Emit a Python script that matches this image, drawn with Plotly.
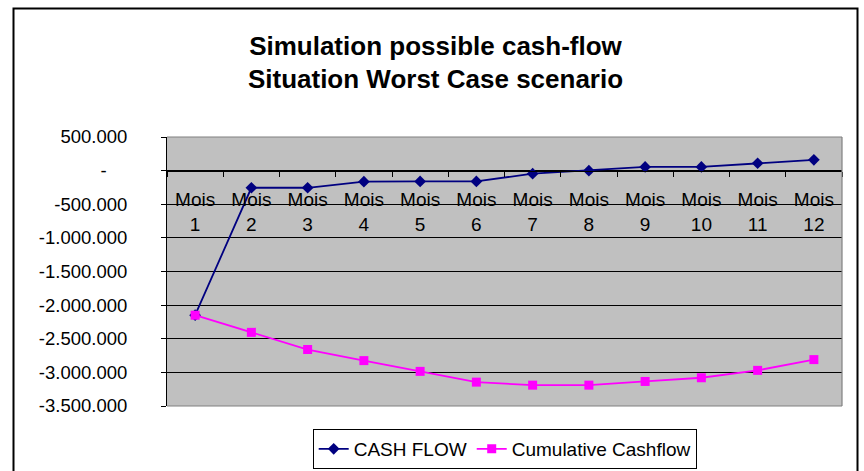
import plotly.graph_objects as go

# ---- data ----
months = [f"Mois<br>{i}" for i in range(1, 13)]
cash_flow = [-2150000, -255000, -255000, -165000, -160000, -160000,
             -45000, 0, 55000, 55000, 110000, 160000]
cumulative = [-2150000, -2405000, -2660000, -2825000, -2985000, -3145000,
              -3190000, -3190000, -3135000, -3080000, -2970000, -2810000]
y_tickvals = [500000, 0, -500000, -1000000, -1500000, -2000000,
              -2500000, -3000000, -3500000]
y_ticktext = ["500.000", "-" + "\u00a0" * 4, "-500.000", "-1.000.000", "-1.500.000",
              "-2.000.000", "-2.500.000", "-3.000.000", "-3.500.000"]
y_min, y_max = -3500000, 500000

# ---- layout geometry (pixels) ----
W, H = 864, 471
PL, PR, PT, PB = 167, 842, 137, 406
pw, ph = PR - PL, PB - PT


def px(x):
    return (x - PL) / pw


def py(y):
    return (PB - y) / ph


FONT = "Arial, Liberation Sans, sans-serif"

fig = go.Figure()
fig.add_trace(go.Scatter(
    x=months, y=cash_flow, name="CASH FLOW", mode="lines+markers",
    line=dict(color="#000080", width=1.8),
    marker=dict(symbol="diamond", size=9, color="#000080"),
))
fig.add_trace(go.Scatter(
    x=months, y=cumulative, name="Cumulative Cashflow", mode="lines+markers",
    line=dict(color="#FF00FF", width=1.8),
    marker=dict(symbol="square", size=9, color="#FF00FF"),
))

zero_pos = (0 - y_min) / (y_max - y_min)

fig.update_layout(
    width=W, height=H,
    margin=dict(l=PL, r=W - PR, t=PT, b=H - PB, autoexpand=False),
    paper_bgcolor="white",
    plot_bgcolor="#C0C0C0",
    font=dict(family=FONT, size=19, color="black"),
    title=dict(
        text="<b>Simulation possible cash-flow<br>Situation Worst Case scenario</b>",
        font=dict(family=FONT, size=26, color="black"),
        x=435.5 / W, xref="container", xanchor="center",
        y=1 - 54.5 / H, yref="container", yanchor="middle",
    ),
    xaxis=dict(
        type="category", range=[-0.5, 11.5],
        anchor="free", position=zero_pos,
        showline=True, linecolor="black", linewidth=1,
        ticks="outside", tickson="boundaries", ticklen=5, tickcolor="black",
        showgrid=False, zeroline=False,
        tickfont=dict(family=FONT, size=19, color="black"),
        ticklabelstandoff=12,
        automargin=False,
    ),
    yaxis=dict(
        range=[y_min, y_max],
        tickvals=y_tickvals, ticktext=y_ticktext,
        showline=True, linecolor="black", linewidth=1,
        ticks="outside", ticklen=5, tickcolor="black",
        showgrid=True, gridcolor="black", gridwidth=1,
        zeroline=False,
        tickfont=dict(family=FONT, size=18.5, color="black"),
        ticklabelstandoff=30,
        automargin=False,
    ),
    legend=dict(
        orientation="h", x=px(504.7), xanchor="center",
        y=py(469), yanchor="bottom",
        bordercolor="black", borderwidth=1, bgcolor="white",
        font=dict(family=FONT, size=19, color="black"),
    ),
    showlegend=True,
)

# plot-area border (grey) on top, right, bottom
for (x0, y0, x1, y1) in [(0, 1, 1, 1), (1, 0, 1, 1), (0, 0, 1, 0)]:
    fig.add_shape(type="line", xref="paper", yref="paper",
                  x0=x0, y0=y0, x1=x1, y1=y1,
                  line=dict(color="#808080", width=1.2), layer="above")

# outer chart frame
fig.add_shape(type="rect", xref="paper", yref="paper",
              x0=px(13.5), x1=px(857.5), y0=py(490), y1=py(8.5),
              line=dict(color="black", width=2), fillcolor="rgba(0,0,0,0)",
              layer="above")

fig.write_html(
    "out.html",
    config={"displayModeBar": False},
    post_script="document.body.style.margin='0';document.body.style.overflow='hidden';",
)
